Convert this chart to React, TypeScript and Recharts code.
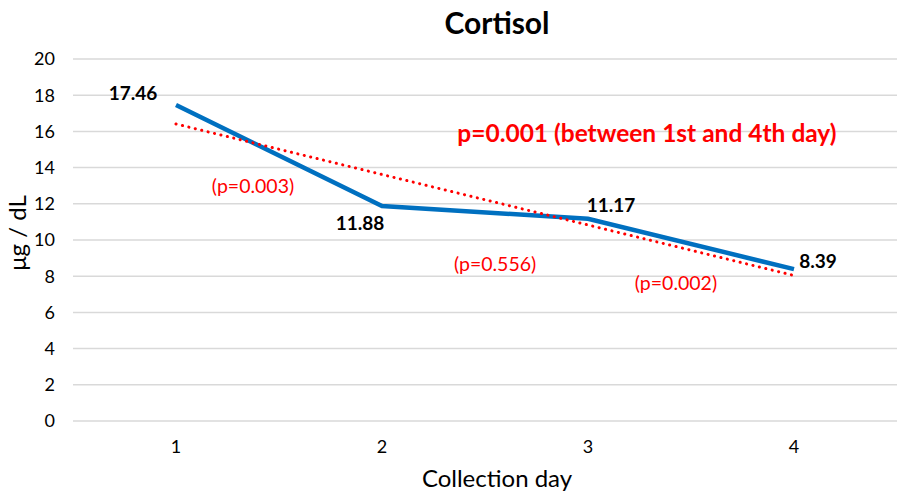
import React from 'react'
import {
  LineChart,
  Line,
  XAxis,
  YAxis,
  CartesianGrid,
  LabelList,
  ReferenceDot,
} from 'recharts'

const days = [1, 2, 3, 4]
const cortisol = [17.46, 11.88, 11.17, 8.39]
const trend = [16.41, 13.62, 10.83, 8.04]
const yTicks = [0, 2, 4, 6, 8, 10, 12, 14, 16, 18, 20]

// p-value notes: x is position along the day axis, y in µg/dL
const notes = [
  { x: 1.374, y: 12.98, text: '(p=0.003)', bold: false },
  { x: 2.549, y: 8.67, text: '(p=0.556)', bold: false },
  { x: 3.427, y: 7.62, text: '(p=0.002)', bold: false },
  { x: 3.286, y: 15.9, text: 'p=0.001 (between 1st and 4th day)', bold: true },
]

const FONT = 'Lato, "Open Sans", sans-serif'
const BLUE = '#0070C0'
const RED = '#FF0000'

// where each value label sits relative to its point
const labelOffsets = [
  { dx: -43, dy: -12 },
  { dx: -22, dy: 17 },
  { dx: 23, dy: -14 },
  { dx: 24, dy: -9 },
]

const data = days.map((day, i) => ({ day, cortisol: cortisol[i], trend: trend[i] }))

function ValueLabel(props: any) {
  const { x, y, value, index } = props
  const off = labelOffsets[index] ?? { dx: 0, dy: 0 }
  return (
    <text
      x={x + off.dx}
      y={y + off.dy}
      textAnchor="middle"
      dominantBaseline="central"
      fontFamily={FONT}
      fontWeight={700}
      fontSize={19}
      fill="#000"
    >
      {value.toFixed(2)}
    </text>
  )
}

export default function App() {
  return (
    <div style={{ position: 'absolute', left: 0, top: 0, width: 898, height: 495, background: '#fff' }}>
      <LineChart width={898} height={495} data={data} margin={{ top: 59, right: 1, bottom: 0, left: 0 }}>
        <text x={497} y={22} textAnchor="middle" dominantBaseline="central" fontFamily={FONT} fontWeight={700} fontSize={30} fill="#000">
          Cortisol
        </text>
        <CartesianGrid vertical={false} stroke="#d9d9d9" strokeWidth={1.5} />
        <XAxis
          dataKey="day"
          type="number"
          domain={[0.5, 4.5]}
          ticks={days}
          axisLine={false}
          tickLine={false}
          tickSize={0}
          tickMargin={19}
          height={74}
          tick={{ fontFamily: FONT, fontSize: 18, fill: '#000' }}
          label={{
            value: 'Collection day',
            position: 'insideBottom',
            offset: 8,
            fontFamily: FONT,
            fontSize: 24,
            fill: '#000',
            dx: 12,
          }}
        />
        <YAxis
          domain={[0, 20]}
          ticks={yTicks}
          width={73}
          axisLine={false}
          tickLine={false}
          tickSize={0}
          tickMargin={18}
          tick={{ fontFamily: FONT, fontSize: 18, fill: '#000' }}
          label={({ viewBox }: any) => (
            <text
              x={viewBox.x + 16}
              y={233}
              transform={`rotate(-90 ${viewBox.x + 16} 233)`}
              textAnchor="middle"
              dominantBaseline="central"
              fontFamily={FONT}
              fontSize={24}
              fill="#000"
            >
              μg / dL
            </text>
          )}
        />
        <Line
          dataKey="cortisol"
          stroke={BLUE}
          strokeWidth={4.5}
          dot={false}
          activeDot={false}
          isAnimationActive={false}
        >
          <LabelList dataKey="cortisol" content={<ValueLabel />} />
        </Line>
        <Line
          dataKey="trend"
          stroke={RED}
          strokeWidth={3}
          strokeDasharray="0.1 6.5"
          strokeLinecap="round"
          dot={false}
          activeDot={false}
          isAnimationActive={false}
        />
        {notes.map((n) => (
          <ReferenceDot
            key={n.text}
            x={n.x}
            y={n.y}
            r={0}
            stroke="none"
            fill="none"
            ifOverflow="visible"
            label={{
              value: n.text,
              position: 'center',
              fontFamily: FONT,
              fontSize: n.bold ? 24.5 : 19.5,
              fontWeight: n.bold ? 700 : 400,
              fill: RED,
            }}
          />
        ))}
      </LineChart>
    </div>
  )
}
